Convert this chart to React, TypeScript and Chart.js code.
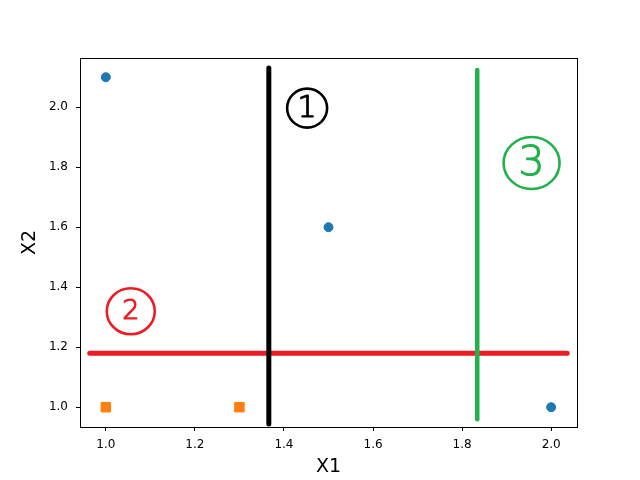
import React, { useEffect, useRef } from "react";
import { Chart, registerables } from "chart.js";

Chart.register(...registerables);

// Scatter data
const class1X = [1.0, 1.5, 2.0];
const class1Y = [2.1, 1.6, 1.0];
const class2X = [1.0, 1.3];
const class2Y = [1.0, 1.0];

// Hand-drawn split lines (data coordinates)
const line1X = [1.366, 1.366];
const line1Y = [0.944, 2.131];
const line2X = [0.964, 2.036];
const line2Y = [1.18, 1.18];
const line3X = [1.834, 1.834];
const line3Y = [0.96, 2.124];

// Circled labels
const noteLabels = ["1", "2", "3"];
const noteX = [1.452, 1.056, 1.956];
const noteY = [1.997, 1.32, 1.814];

// Ticks
const xTicks = [1.0, 1.2, 1.4, 1.6, 1.8, 2.0];
const yTicks = [1.0, 1.2, 1.4, 1.6, 1.8, 2.0];

const BLUE = "#1f77b4";
const ORANGE = "#ff7f0e";
const RED = "#ed1c24";
const GREEN = "#22b14c";
const BLACK = "#000000";

const noteColors = [BLACK, RED, GREEN];
const noteRx = [20, 24, 28];
const noteRy = [19.5, 23, 26];
const noteFont = [30, 27, 41];

const toPts = (xs: number[], ys: number[]) => xs.map((x, i) => ({ x, y: ys[i] }));

const boxPlugin = {
  id: "boxAndNotes",
  afterDatasetsDraw(chart: any) {
    const { ctx, chartArea, scales } = chart;
    ctx.save();
    ctx.strokeStyle = "#000";
    ctx.lineWidth = 1;
    ctx.strokeRect(
      Math.round(chartArea.left) + 0.5,
      Math.round(chartArea.top) + 0.5,
      Math.round(chartArea.right - chartArea.left),
      Math.round(chartArea.bottom - chartArea.top)
    );
    noteLabels.forEach((lab, i) => {
      const cx = scales.x.getPixelForValue(noteX[i]);
      const cy = scales.y.getPixelForValue(noteY[i]);
      ctx.strokeStyle = noteColors[i];
      ctx.lineWidth = 2.6;
      ctx.lineJoin = "round";
      ctx.beginPath();
      ctx.ellipse(cx, cy, noteRx[i], noteRy[i], 0, 0, Math.PI * 2);
      ctx.stroke();
      ctx.fillStyle = noteColors[i];
      ctx.font = `200 ${noteFont[i]}px "DejaVu Sans"`;
      ctx.textAlign = "center";
      ctx.textBaseline = "middle";
      ctx.fillText(lab, cx, cy + 1);
      ctx.lineWidth = 1.2;
      ctx.strokeText(lab, cx, cy + 1);
    });
    ctx.restore();
  },
};

export default function App() {
  const ref = useRef<HTMLCanvasElement | null>(null);
  useEffect(() => {
    if (!ref.current) return;
    const lineDs = (xs: number[], ys: number[], color: string, w: number) => ({
      type: "line" as const,
      data: toPts(xs, ys),
      borderColor: color,
      backgroundColor: color,
      borderWidth: w,
      borderCapStyle: "round" as const,
      pointRadius: 0,
      showLine: true,
      fill: false,
    });
    const chart = new Chart(ref.current, {
      type: "scatter",
      data: {
        datasets: [
          lineDs(line3X, line3Y, GREEN, 4.5),
          lineDs(line1X, line1Y, BLACK, 5),
          lineDs(line2X, line2Y, RED, 5),
          {
            data: toPts(class1X, class1Y),
            backgroundColor: BLUE,
            borderColor: BLUE,
            pointRadius: 4.5,
            pointStyle: "circle",
          } as any,
          {
            data: toPts(class2X, class2Y),
            backgroundColor: ORANGE,
            borderColor: ORANGE,
            pointRadius: 6.7,
            pointStyle: "rect",
          } as any,
        ],
      },
      options: {
        animation: false,
        responsive: false,
        maintainAspectRatio: false,
        layout: { padding: { left: 0, top: 58, right: 63, bottom: 0 } },
        plugins: { legend: { display: false }, tooltip: { enabled: false } },
        scales: {
          x: {
            type: "linear",
            min: 0.942,
            max: 2.058,
            afterBuildTicks: (s: any) => {
              s.ticks = xTicks.map((v) => ({ value: v }));
            },
            afterFit: (s: any) => {
              s.height = 53;
            },
            grid: { display: true, drawOnChartArea: false, drawTicks: true, tickLength: 4, color: "#000" },
            border: { display: false },
            ticks: {
              color: "#000",
              font: { family: "DejaVu Sans", size: 12 },
              padding: 7,
              maxRotation: 0,
              callback: (v: any) => Number(v).toFixed(1),
            },
            title: {
              display: true,
              text: "X1",
              color: "#000",
              font: { family: "DejaVu Sans", size: 19 },
              padding: { top: 0, bottom: 1.5 },
            },
          },
          y: {
            type: "linear",
            min: 0.934,
            max: 2.164,
            afterBuildTicks: (s: any) => {
              s.ticks = yTicks.map((v) => ({ value: v }));
            },
            afterFit: (s: any) => {
              s.width = 80;
            },
            grid: { display: true, drawOnChartArea: false, drawTicks: true, tickLength: 4, color: "#000" },
            border: { display: false },
            ticks: {
              color: "#000",
              font: { family: "DejaVu Sans", size: 12 },
              padding: 8,
              callback: (v: any) => Number(v).toFixed(1),
            },
            title: {
              display: true,
              text: "X2",
              color: "#000",
              font: { family: "DejaVu Sans", size: 19 },
              padding: { top: 19, bottom: 0 },
            },
          },
        },
      },
      plugins: [boxPlugin],
    } as any);
    return () => chart.destroy();
  }, []);
  return (
    <div style={{ position: "fixed", left: 0, top: 0, width: 640, height: 480, background: "#fff" }}>
      <canvas ref={ref} width={640} height={480} style={{ display: "block" }} />
    </div>
  );
}
